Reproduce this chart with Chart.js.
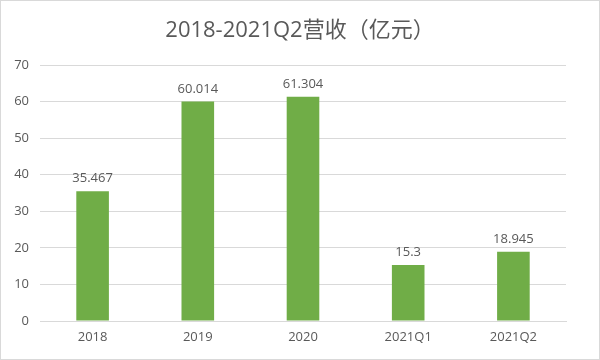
<!DOCTYPE html>
<html>
<head>
<meta charset="utf-8">
<script src="https://cdn.jsdelivr.net/npm/chart.js@4"></script>
<style>
html,body{margin:0;padding:0;background:#fff;}
#wrap{position:absolute;left:0;top:0;width:598px;height:358px;border:1px solid #d9d9d9;}
</style>
</head>
<body>
<div id="wrap"><canvas id="c" width="598" height="358"></canvas></div>
<script>
const categories = ['2018', '2019', '2020', '2021Q1', '2021Q2'];
const revenue = [35.467, 60.014, 61.304, 15.3, 18.945];
const revenueLabels = ['35.467', '60.014', '61.304', '15.3', '18.945'];
const yTicks = [0, 10, 20, 30, 40, 50, 60, 70];
const titleText = '2018-2021Q2营收（亿元）';

const FONT = '"Open Sans", "Noto Sans CJK SC", "Noto Sans", sans-serif';
const TXT = '#595959';

const valueLabels = {
  id: 'valueLabels',
  afterDatasetsDraw(chart) {
    const ctx = chart.ctx;
    const meta = chart.getDatasetMeta(0);
    ctx.save();
    ctx.font = '13px ' + FONT;
    ctx.fillStyle = TXT;
    ctx.textAlign = 'center';
    ctx.textBaseline = 'bottom';
    meta.data.forEach((bar, i) => {
      ctx.fillText(revenueLabels[i], bar.x, bar.y - 6);
    });
    ctx.restore();
  }
};

const centeredTitle = {
  id: 'centeredTitle',
  afterDraw(chart) {
    const ctx = chart.ctx;
    ctx.save();
    ctx.font = '22px ' + FONT;
    ctx.fillStyle = TXT;
    ctx.textAlign = 'center';
    ctx.textBaseline = 'middle';
    ctx.fillText(titleText, chart.width / 2, 30);
    ctx.restore();
  }
};

new Chart(document.getElementById('c'), {
  type: 'bar',
  data: {
    labels: categories,
    datasets: [{
      data: revenue,
      backgroundColor: '#70ad47',
      barPercentage: 0.31,
      categoryPercentage: 1.0
    }]
  },
  options: {
    responsive: false,
    animation: false,
    layout: { padding: { left: 0, right: 33, top: 64, bottom: 0 } },
    plugins: {
      legend: { display: false },
      tooltip: { enabled: false },
      title: { display: false }
    },
    scales: {
      x: {
        grid: { display: false, drawTicks: false },
        border: { display: true, color: '#d9d9d9' },
        ticks: { color: TXT, font: { size: 13, family: FONT }, padding: 8 },
        afterFit(scale) { scale.height = 38; }
      },
      y: {
        min: 0, max: 70,
        afterBuildTicks(scale) { scale.ticks = yTicks.map(v => ({ value: v })); },
        grid: { color: '#d9d9d9', drawTicks: false },
        border: { display: false },
        ticks: { color: TXT, font: { size: 13, family: FONT }, padding: 11 },
        afterFit(scale) { scale.width = 39; }
      }
    }
  },
  plugins: [valueLabels, centeredTitle]
});
</script>
</body>
</html>
